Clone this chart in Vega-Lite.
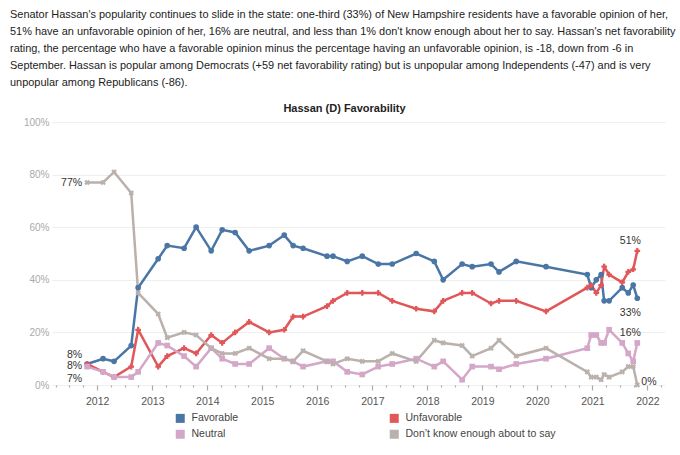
{
  "$schema": "https://vega.github.io/schema/vega-lite/v6.json",
  "width": 613,
  "height": 263,
  "autosize": {"type": "none"},
  "padding": {"left": 52, "top": 122, "right": 15, "bottom": 70},
  "background": "white",
  "title": {
    "text": [
      "Senator Hassan's popularity continues to slide in the state: one-third (33%) of New Hampshire residents have a favorable opinion of her,",
      "51% have an unfavorable opinion of her, 16% are neutral, and less than 1% don't know enough about her to say. Hassan's net favorability",
      "rating, the percentage who have a favorable opinion minus the percentage having an unfavorable opinion, is -18, down from -6 in",
      "September. Hassan is popular among Democrats (+59 net favorability rating) but is unpopular among Independents (-47) and is very",
      "unpopular among Republicans (-86)."
    ],
    "anchor": "start",
    "frame": "group",
    "dx": -42,
    "offset": 14,
    "font": "Liberation Sans",
    "fontSize": 10.95,
    "fontWeight": "normal",
    "color": "#222222",
    "lineHeight": 17,
    "limit": 0
  },
  "data": {
    "values": [
      {"date": "2011-10-26", "fav": 0.08, "unf": 0.08, "neu": 0.07, "dk": 0.77},
      {"date": "2012-02-09", "fav": 0.10, "unf": 0.05, "neu": 0.05, "dk": 0.77},
      {"date": "2012-04-22", "fav": 0.09, "unf": 0.03, "neu": 0.03, "dk": 0.81},
      {"date": "2012-08-14", "fav": 0.15, "unf": 0.07, "neu": 0.03, "dk": 0.73},
      {"date": "2012-09-29", "fav": 0.37, "unf": 0.21, "neu": 0.05, "dk": 0.35},
      {"date": "2013-02-09", "fav": 0.48, "unf": 0.07, "neu": 0.16, "dk": 0.27},
      {"date": "2013-04-10", "fav": 0.53, "unf": 0.11, "neu": 0.15, "dk": 0.18},
      {"date": "2013-07-31", "fav": 0.52, "unf": 0.14, "neu": 0.11, "dk": 0.20},
      {"date": "2013-10-19", "fav": 0.60, "unf": 0.12, "neu": 0.07, "dk": 0.19},
      {"date": "2014-01-27", "fav": 0.51, "unf": 0.19, "neu": 0.14, "dk": 0.14},
      {"date": "2014-04-10", "fav": 0.59, "unf": 0.16, "neu": 0.10, "dk": 0.12},
      {"date": "2014-07-05", "fav": 0.58, "unf": 0.20, "neu": 0.08, "dk": 0.12},
      {"date": "2014-10-06", "fav": 0.51, "unf": 0.24, "neu": 0.08, "dk": 0.14},
      {"date": "2015-02-16", "fav": 0.53, "unf": 0.20, "neu": 0.14, "dk": 0.10},
      {"date": "2015-05-27", "fav": 0.57, "unf": 0.21, "neu": 0.10, "dk": 0.10},
      {"date": "2015-07-25", "fav": 0.53, "unf": 0.26, "neu": 0.09, "dk": 0.09},
      {"date": "2015-09-29", "fav": 0.52, "unf": 0.26, "neu": 0.07, "dk": 0.13},
      {"date": "2016-03-06", "fav": 0.49, "unf": 0.30, "neu": 0.09, "dk": 0.09},
      {"date": "2016-04-15", "fav": 0.49, "unf": 0.32, "neu": 0.09, "dk": 0.08},
      {"date": "2016-07-18", "fav": 0.47, "unf": 0.35, "neu": 0.05, "dk": 0.10},
      {"date": "2016-10-26", "fav": 0.49, "unf": 0.35, "neu": 0.04, "dk": 0.09},
      {"date": "2017-02-09", "fav": 0.46, "unf": 0.35, "neu": 0.07, "dk": 0.09},
      {"date": "2017-05-13", "fav": 0.46, "unf": 0.32, "neu": 0.08, "dk": 0.12},
      {"date": "2017-10-19", "fav": 0.50, "unf": 0.29, "neu": 0.10, "dk": 0.09},
      {"date": "2018-02-16", "fav": 0.47, "unf": 0.28, "neu": 0.07, "dk": 0.17},
      {"date": "2018-04-16", "fav": 0.40, "unf": 0.32, "neu": 0.09, "dk": 0.16},
      {"date": "2018-08-20", "fav": 0.46, "unf": 0.35, "neu": 0.02, "dk": 0.15},
      {"date": "2018-10-26", "fav": 0.45, "unf": 0.35, "neu": 0.07, "dk": 0.11},
      {"date": "2019-02-28", "fav": 0.46, "unf": 0.31, "neu": 0.07, "dk": 0.14},
      {"date": "2019-04-22", "fav": 0.43, "unf": 0.32, "neu": 0.06, "dk": 0.17},
      {"date": "2019-08-14", "fav": 0.47, "unf": 0.32, "neu": 0.08, "dk": 0.11},
      {"date": "2020-02-28", "fav": 0.45, "unf": 0.28, "neu": 0.10, "dk": 0.14},
      {"date": "2020-11-28", "fav": 0.42, "unf": 0.37, "neu": 0.14, "dk": 0.05},
      {"date": "2020-12-24", "fav": 0.37, "unf": 0.38, "neu": 0.19, "dk": 0.03},
      {"date": "2021-01-27", "fav": 0.40, "unf": 0.35, "neu": 0.19, "dk": 0.03},
      {"date": "2021-02-28", "fav": 0.42, "unf": 0.38, "neu": 0.16, "dk": 0.02},
      {"date": "2021-03-20", "fav": 0.32, "unf": 0.45, "neu": 0.16, "dk": 0.04},
      {"date": "2021-04-22", "fav": 0.32, "unf": 0.42, "neu": 0.21, "dk": 0.03},
      {"date": "2021-07-18", "fav": 0.37, "unf": 0.39, "neu": 0.16, "dk": 0.05},
      {"date": "2021-08-27", "fav": 0.35, "unf": 0.43, "neu": 0.12, "dk": 0.07},
      {"date": "2021-09-29", "fav": 0.38, "unf": 0.44, "neu": 0.09, "dk": 0.07},
      {"date": "2021-10-26", "fav": 0.33, "unf": 0.51, "neu": 0.16, "dk": 0.00}
    ],
    "format": {"parse": {"date": "date"}}
  },
  "transform": [
    {"fold": ["fav", "unf", "neu", "dk"], "as": ["key", "value"]}
  ],
  "resolve": {"axis": {"x": "independent"}},
  "layer": [
    {
      "mark": {"type": "line", "strokeWidth": 2.5},
      "encoding": {
        "x": {
          "field": "date", "type": "temporal",
          "scale": {"type": "utc", "domain": [{"year": 2011, "month": 3, "date": 7, "utc": true}, {"year": 2022, "month": 4, "date": 28, "utc": true}]},
          "axis": {
            "title": null,
            "tickCount": {"interval": "month", "step": 3},
            "labelExpr": "utcmonth(datum.value) === 0 ? utcFormat(datum.value, '%Y') : ''",
            "grid": false, "domain": false,
            "ticks": true,
            "tickSize": {"condition": {"test": "utcmonth(datum.value) === 0", "value": 5}, "value": 2},
            "tickWidth": 1.2,
            "tickColor": "#aaaaaa",
            "labelColor": "#555555",
            "labelFontSize": 10.5,
            "labelPadding": 6,
            "labelFlush": false,
            "labelOverlap": false
          }
        },
        "y": {
          "field": "value", "type": "quantitative",
          "scale": {"domain": [0, 1], "nice": false},
          "axis": {
            "title": null,
            "values": [0, 0.2, 0.4, 0.6, 0.8, 1],
            "format": ".0%",
            "grid": true, "gridColor": "#eeeeee", "gridWidth": 1,
            "domain": false, "ticks": false,
            "labelColor": "#aaaaaa", "labelFontSize": 10, "labelPadding": 3
          }
        },
        "color": {
          "field": "key", "type": "nominal",
          "scale": {"domain": ["fav", "unf", "neu", "dk"], "range": ["#4a76a6", "#e15759", "#d4a6c8", "#bab0ac"]},
          "legend": {
            "orient": "none", "legendX": 123, "legendY": 291,
            "direction": "horizontal", "columns": 2,
            "title": null,
            "symbolType": "square", "symbolSize": 81, "symbolStrokeWidth": 0,
            "labelFontSize": 10.5, "labelColor": "#444444", "labelOffset": 6,
            "columnPadding": 150, "rowPadding": 5, "padding": 0,
            "labelExpr": "datum.label === 'fav' ? 'Favorable' : datum.label === 'unf' ? 'Unfavorable' : datum.label === 'neu' ? 'Neutral' : 'Don’t know enough about to say'",
            "encode": {"symbols": {"update": {"fill": {"scale": "color", "field": "value"}, "stroke": {"value": "transparent"}}}}
          }
        }
      }
    },
    {
      "transform": [{"filter": "datum.key === 'fav'"}],
      "mark": {"type": "point", "filled": true, "size": 32, "opacity": 1, "shape": "circle"},
      "encoding": {
        "x": {
          "field": "date", "type": "temporal",
          "axis": {
            "orient": "top", "title": "Hassan (D) Favorability",
            "labels": false, "ticks": false, "domain": false, "grid": false,
            "titleFontSize": 11, "titleFontWeight": "bold", "titleColor": "#222222",
            "titlePadding": 9, "titleX": 292
          }
        },
        "y": {"field": "value", "type": "quantitative"},
        "color": {"field": "key", "type": "nominal"}
      }
    },
    {
      "transform": [{"filter": "datum.key === 'unf'"}],
      "mark": {"type": "point", "filled": true, "size": 32, "opacity": 1, "shape": "cross"},
      "encoding": {
        "x": {"field": "date", "type": "temporal", "axis": null},
        "y": {"field": "value", "type": "quantitative"},
        "color": {"field": "key", "type": "nominal"}
      }
    },
    {
      "transform": [{"filter": "datum.key === 'neu'"}],
      "mark": {"type": "point", "filled": true, "size": 32, "opacity": 1, "shape": "square"},
      "encoding": {
        "x": {"field": "date", "type": "temporal", "axis": null},
        "y": {"field": "value", "type": "quantitative"},
        "color": {"field": "key", "type": "nominal"}
      }
    },
    {
      "transform": [{"filter": "datum.key === 'dk'"}],
      "mark": {"type": "point", "filled": true, "size": 32, "opacity": 1, "shape": "cross", "angle": 45},
      "encoding": {
        "x": {"field": "date", "type": "temporal", "axis": null},
        "y": {"field": "value", "type": "quantitative"},
        "color": {"field": "key", "type": "nominal"}
      }
    },
    {
      "transform": [
        {"joinaggregate": [{"op": "min", "field": "date", "as": "first"}]},
        {"filter": "time(datum.date) === time(datum.first) && datum.key === 'dk'"}
      ],
      "mark": {"type": "text", "align": "right", "dx": -5, "dy": 1, "fontSize": 10.5, "color": "#333333"},
      "encoding": {
        "x": {"field": "date", "type": "temporal", "axis": null},
        "y": {"field": "value", "type": "quantitative"},
        "text": {"field": "value", "type": "quantitative", "format": ".0%"}
      }
    },
    {
      "transform": [
        {"joinaggregate": [{"op": "min", "field": "date", "as": "first"}]},
        {"filter": "time(datum.date) === time(datum.first) && datum.key === 'fav'"}
      ],
      "mark": {"type": "text", "align": "right", "dx": -5, "dy": -9, "fontSize": 10.5, "color": "#333333"},
      "encoding": {
        "x": {"field": "date", "type": "temporal", "axis": null},
        "y": {"field": "value", "type": "quantitative"},
        "text": {"field": "value", "type": "quantitative", "format": ".0%"}
      }
    },
    {
      "transform": [
        {"joinaggregate": [{"op": "min", "field": "date", "as": "first"}]},
        {"filter": "time(datum.date) === time(datum.first) && datum.key === 'unf'"}
      ],
      "mark": {"type": "text", "align": "right", "dx": -5, "dy": 2, "fontSize": 10.5, "color": "#333333"},
      "encoding": {
        "x": {"field": "date", "type": "temporal", "axis": null},
        "y": {"field": "value", "type": "quantitative"},
        "text": {"field": "value", "type": "quantitative", "format": ".0%"}
      }
    },
    {
      "transform": [
        {"joinaggregate": [{"op": "min", "field": "date", "as": "first"}]},
        {"filter": "time(datum.date) === time(datum.first) && datum.key === 'neu'"}
      ],
      "mark": {"type": "text", "align": "right", "dx": -5, "dy": 12, "fontSize": 10.5, "color": "#333333"},
      "encoding": {
        "x": {"field": "date", "type": "temporal", "axis": null},
        "y": {"field": "value", "type": "quantitative"},
        "text": {"field": "value", "type": "quantitative", "format": ".0%"}
      }
    },
    {
      "transform": [
        {"joinaggregate": [{"op": "max", "field": "date", "as": "last"}]},
        {"filter": "time(datum.date) === time(datum.last) && datum.key === 'unf'"}
      ],
      "mark": {"type": "text", "align": "center", "dx": -7, "dy": -10, "fontSize": 10.5, "color": "#333333"},
      "encoding": {
        "x": {"field": "date", "type": "temporal", "axis": null},
        "y": {"field": "value", "type": "quantitative"},
        "text": {"field": "value", "type": "quantitative", "format": ".0%"}
      }
    },
    {
      "transform": [
        {"joinaggregate": [{"op": "max", "field": "date", "as": "last"}]},
        {"filter": "time(datum.date) === time(datum.last) && datum.key === 'fav'"}
      ],
      "mark": {"type": "text", "align": "center", "dx": -7, "dy": 15, "fontSize": 10.5, "color": "#333333"},
      "encoding": {
        "x": {"field": "date", "type": "temporal", "axis": null},
        "y": {"field": "value", "type": "quantitative"},
        "text": {"field": "value", "type": "quantitative", "format": ".0%"}
      }
    },
    {
      "transform": [
        {"joinaggregate": [{"op": "max", "field": "date", "as": "last"}]},
        {"filter": "time(datum.date) === time(datum.last) && datum.key === 'neu'"}
      ],
      "mark": {"type": "text", "align": "center", "dx": -7, "dy": -10, "fontSize": 10.5, "color": "#333333"},
      "encoding": {
        "x": {"field": "date", "type": "temporal", "axis": null},
        "y": {"field": "value", "type": "quantitative"},
        "text": {"field": "value", "type": "quantitative", "format": ".0%"}
      }
    },
    {
      "transform": [
        {"joinaggregate": [{"op": "max", "field": "date", "as": "last"}]},
        {"filter": "time(datum.date) === time(datum.last) && datum.key === 'dk'"}
      ],
      "mark": {"type": "text", "align": "left", "dx": 4, "dy": -3, "fontSize": 10.5, "color": "#333333"},
      "encoding": {
        "x": {"field": "date", "type": "temporal", "axis": null},
        "y": {"field": "value", "type": "quantitative"},
        "text": {"field": "value", "type": "quantitative", "format": ".0%"}
      }
    }
  ],
  "config": {
    "font": "Liberation Sans",
    "view": {"stroke": null},
    "axis": {"labelFont": "Liberation Sans", "titleFont": "Liberation Sans"},
    "legend": {"labelFont": "Liberation Sans"}
  }
}
